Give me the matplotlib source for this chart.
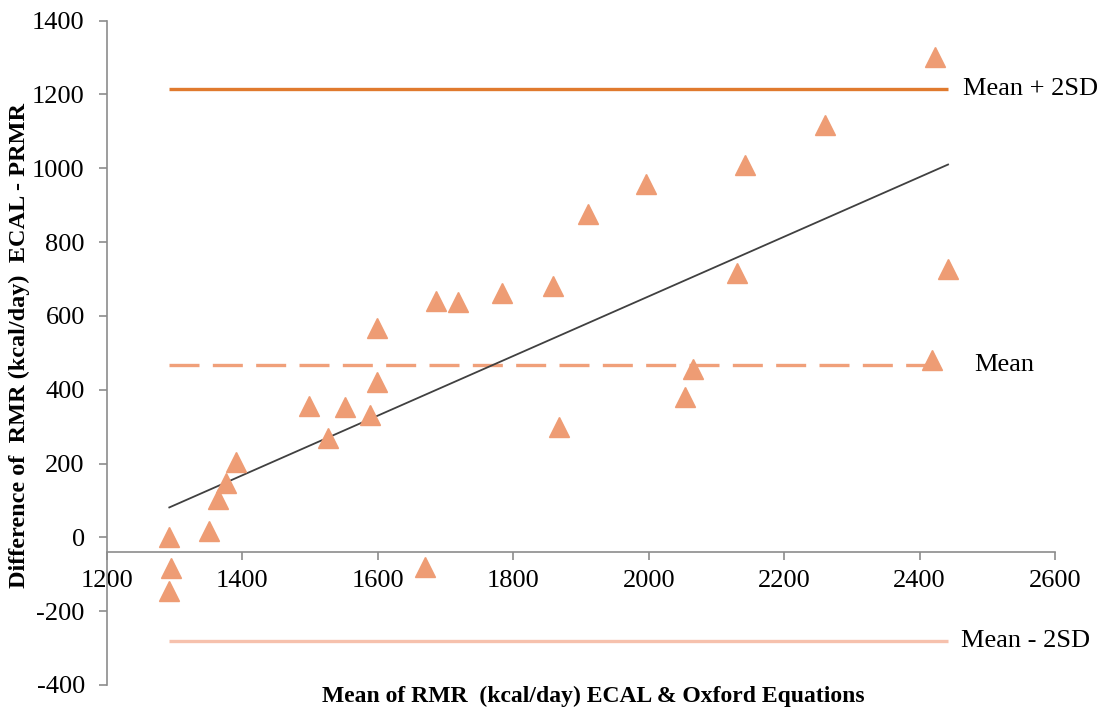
import numpy as np
import matplotlib
matplotlib.use("Agg")
import matplotlib.pyplot as plt

plt.rcParams['font.family'] = ['Liberation Serif', 'DejaVu Serif']
plt.rcParams['axes.unicode_minus'] = False

# mean of the two RMR estimates (kcal/day) and their difference ECAL - PRMR
mean_rmr = [1292, 1294, 1292, 1351, 1364, 1376, 1391, 1499, 1527, 1551,
            1589, 1598, 1598, 1670, 1686, 1718, 1784, 1858, 1867, 1910,
            1996, 2053, 2066, 2130, 2142, 2260, 2419, 2423, 2442]
diff_rmr = [0, -83, -144, 18, 103, 147, 204, 357, 268, 353,
            332, 420, 567, -80, 640, 637, 661, 682, 300, 877,
            958, 381, 455, 715, 1010, 1116, 480, 1302, 726]

mean_diff = 467
upper_loa = 1215
lower_loa = -281

x = np.array(mean_rmr, dtype=float)
y = np.array(diff_rmr, dtype=float)

fig = plt.figure(figsize=(11.02, 7.13), dpi=100)
ax = fig.add_axes([0.0971, 0.0393, 0.8603, 0.9317])

xs = [x.min(), x.max()]
ax.plot(xs, [upper_loa, upper_loa], color='#E07A2E', lw=2.4, solid_capstyle='butt', zorder=2)
ax.plot(xs, [mean_diff, mean_diff], color='#F0A07A', lw=2.4, dashes=(9, 4), zorder=2)
ax.plot(xs, [lower_loa, lower_loa], color='#F6C1AD', lw=2.4, solid_capstyle='butt', zorder=2)

# linear trend of the differences
slope, intercept = np.polyfit(x, y, 1)
ax.plot(xs, [slope * v + intercept for v in xs], color='#404040', lw=1.3, zorder=3)

ax.plot(x, y, linestyle='none', marker='^', markersize=14, color='#EE9C74',
        markeredgecolor='#EE9C74', zorder=4)

lbl = dict(fontsize=19, va='center', ha='left', textcoords='offset points', annotation_clip=False)
ax.annotate('Mean + 2SD', (xs[1], upper_loa), xytext=(11, 0), **lbl)
ax.annotate('Mean', (xs[1], mean_diff), xytext=(19, 0), **lbl)
ax.annotate('Mean - 2SD', (xs[1], lower_loa), xytext=(9, 0), **lbl)

ax.set_xlim(1200, 2600)
ax.set_ylim(-400, 1400)
ax.set_xticks(range(1200, 2601, 200))
ax.set_yticks(range(-400, 1401, 200))

for s in ['top', 'right']:
    ax.spines[s].set_visible(False)
ax.spines['bottom'].set_position(('data', -40))
for s in ['left', 'bottom']:
    ax.spines[s].set_color('#8C8C8C')
    ax.spines[s].set_linewidth(1.2)
ax.tick_params(axis='both', colors='#8C8C8C', labelcolor='black', labelsize=19,
               length=6, width=1.2, direction='out')
ax.tick_params(axis='y', pad=10)
ax.tick_params(axis='x', pad=7)

fig.text(0.5386, 0.023, 'Mean of RMR  (kcal/day) ECAL & Oxford Equations',
         ha='center', va='center', fontsize=17, fontweight='bold')
fig.text(0.018, 0.516, 'Difference of  RMR (kcal/day)  ECAL - PRMR',
         ha='center', va='center', rotation=90, fontsize=17.5, fontweight='bold')

fig.savefig('out.png', dpi=100)
